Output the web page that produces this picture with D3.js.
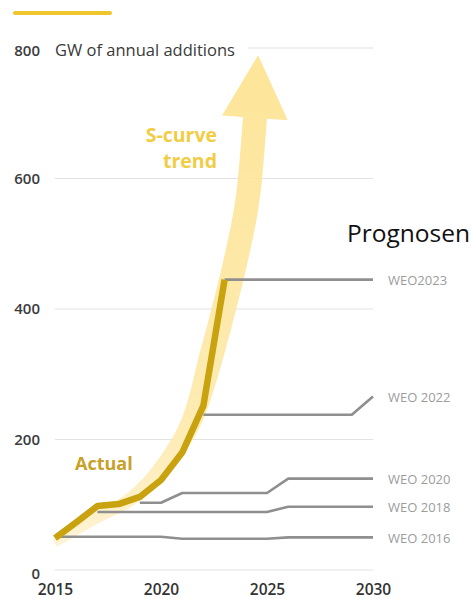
<!DOCTYPE html>
<html><head><meta charset="utf-8">
<script src="https://cdn.jsdelivr.net/npm/d3@7"></script>
<style>
html,body{margin:0;padding:0;background:#fff;}
svg{display:block;font-family:"Open Sans",sans-serif;}
</style></head>
<body>
<svg id="chart" width="474" height="599"></svg>
<script>
// ---- data ----
const yTicks = [0, 200, 400, 600, 800];
const xTicks = [2015, 2020, 2025, 2030];

const actualYears  = [2015, 2016, 2017, 2018, 2019, 2020, 2021, 2022, 2023];
const actualValues = [49, 73, 98, 101, 112, 138, 180, 252, 445];

const weoNames = ["WEO 2016", "WEO 2018", "WEO 2020", "WEO 2022", "WEO2023"];
const weo2016Years = [2015, 2020, 2021, 2025, 2026, 2030];
const weo2016Values = [51, 51, 48, 48, 50, 50];
const weo2018Years = [2017, 2025, 2026, 2030];
const weo2018Values = [89, 89, 97, 97];
const weo2020Years = [2019, 2020, 2021, 2025, 2026, 2030];
const weo2020Values = [103, 103, 118, 118, 140, 140];
const weo2022Years = [2022, 2029, 2030];
const weo2022Values = [238, 238, 266];
const weo2023Years = [2023, 2030];
const weo2023Values = [445, 445];

// S-curve trend arrow centreline (year, GW) and arrow tip
const trendYears  = [2015, 2016.98, 2018.49, 2019.48, 2020.61, 2021.46, 2022.45, 2023.63, 2024.10, 2024.43];
const trendValues = [41, 80, 107, 135, 181, 230, 337, 490, 572, 693];
const trendTip = [2024.58, 789];

// ---- chart ----
const svg = d3.select("#chart");
const x = d3.scaleLinear().domain([2015, 2030]).range([55, 373]);
const y = d3.scaleLinear().domain([0, 800]).range([570, 48]);

// legend bar at top
svg.append("line").attr("x1", 15).attr("x2", 110).attr("y1", 13).attr("y2", 13)
  .attr("stroke", "#f0c62e").attr("stroke-width", 4).attr("stroke-linecap", "round");

// gridlines
svg.append("g").selectAll("line").data(yTicks).join("line")
  .attr("x1", d => d === 800 ? 248 : x(2015)).attr("x2", x(2030))
  .attr("y1", d => y(d)).attr("y2", d => y(d))
  .attr("stroke", "#e2e2e2").attr("stroke-width", 1.2);

// y axis
const yAxis = svg.append("g").attr("transform", `translate(${x(2015)},0)`)
  .call(d3.axisLeft(y).tickValues(yTicks).tickSize(0).tickPadding(15).tickFormat(d3.format("d")));
yAxis.select(".domain").remove();
yAxis.selectAll("text").attr("font-family", "Open Sans").attr("font-size", 15).attr("font-weight", 600).attr("fill", "#3c3c3c");
yAxis.selectAll(".tick").filter(d => d === 0).select("text").attr("dy", "0.55em");
yAxis.selectAll(".tick").filter(d => d === 800).select("text").attr("dy", "0.5em");

svg.append("text").attr("x", 55).attr("y", y(800) + 8)
  .attr("font-size", 16.5).attr("font-weight", 500).attr("fill", "#3a3a3a")
  .text("GW of annual additions");

// x axis
const xAxis = svg.append("g").attr("transform", `translate(0,${y(0)})`)
  .call(d3.axisBottom(x).tickValues(xTicks).tickSize(0).tickPadding(14).tickFormat(d3.format("d")));
xAxis.select(".domain").remove();
xAxis.selectAll("text").attr("font-family", "Open Sans").attr("font-size", 15.5).attr("font-weight", 600).attr("fill", "#333");

// S-curve trend band + arrow
const defs = svg.append("defs");
const grad = defs.append("linearGradient").attr("id", "bandGrad")
  .attr("gradientUnits", "userSpaceOnUse").attr("x1", 0).attr("x2", 0)
  .attr("y1", y(40)).attr("y2", y(790));
grad.append("stop").attr("offset", 0).attr("stop-color", "#fef3d2");
grad.append("stop").attr("offset", 0.25).attr("stop-color", "#fdeaae");
grad.append("stop").attr("offset", 1).attr("stop-color", "#fde393");

const trendPts = trendYears.map((t, i) => [x(t), y(trendValues[i])]);
const centre = svg.append("path")
  .attr("d", d3.line().curve(d3.curveCatmullRom.alpha(0.5))(trendPts))
  .attr("fill", "none").attr("stroke", "none");
const node = centre.node();
const L = node.getTotalLength();
const N = 160;
const samples = d3.range(N + 1).map(i => node.getPointAtLength(L * i / N));
const leftSide = [], rightSide = [];
samples.forEach((p, i) => {
  const a = samples[Math.max(0, i - 2)], b = samples[Math.min(N, i + 2)];
  let dx = b.x - a.x, dy = b.y - a.y; const len = Math.hypot(dx, dy) || 1;
  dx /= len; dy /= len;
  const s = i / N;
  const w = 8 + 16 * Math.min(1, s / 0.5);
  const nx = -dy, ny = dx;
  leftSide.push([p.x - nx * w / 2, p.y - ny * w / 2]);
  rightSide.push([p.x + nx * w / 2, p.y + ny * w / 2]);
});
// arrow head
const endP = samples[N], preP = samples[N - 4];
let ex = endP.x - preP.x, ey = endP.y - preP.y; const el = Math.hypot(ex, ey); ex /= el; ey /= el;
const hnx = -ey, hny = ex, hw = 33;
const headA = [endP.x - hnx * hw, endP.y - hny * hw];
const headB = [endP.x + hnx * hw, endP.y + hny * hw];
const tip = [x(trendTip[0]), y(trendTip[1])];
const poly = leftSide.concat([headA, tip, headB]).concat(rightSide.slice().reverse());
svg.insert("path", "path")
  .attr("d", "M" + poly.map(p => p.join(",")).join("L") + "Z")
  .attr("fill", "url(#bandGrad)").attr("opacity", 0.95);

// WEO forecast lines
const weoSeries = [
  [weo2016Years, weo2016Values],
  [weo2018Years, weo2018Values],
  [weo2020Years, weo2020Values],
  [weo2022Years, weo2022Values],
  [weo2023Years, weo2023Values]
];
const line = d3.line().x(d => x(d[0])).y(d => y(d[1]));
weoSeries.forEach(([ys, vs], i) => {
  const pts = ys.map((t, j) => [t, vs[j]]);
  svg.append("path").attr("d", line(pts)).attr("fill", "none")
    .attr("stroke", "#8f8f8f").attr("stroke-width", 2.6).attr("stroke-linejoin", "round");
  svg.append("text").attr("x", x(2030) + 15).attr("y", y(vs[vs.length - 1])).attr("dy", "0.4em")
    .attr("font-size", 13).attr("fill", "#9c9c9c").text(weoNames[i]);
});

// Actual line
svg.append("path")
  .attr("d", line(actualYears.map((t, i) => [t, actualValues[i]])))
  .attr("fill", "none").attr("stroke", "#c9a20f").attr("stroke-width", 6.5)
  .attr("stroke-linejoin", "round").attr("stroke-linecap", "butt");

// annotations
svg.append("text").attr("x", 217).attr("y", 142).attr("text-anchor", "end")
  .attr("font-size", 19.5).attr("font-weight", 700).attr("fill", "#f0cd45").text("S-curve");
svg.append("text").attr("x", 217).attr("y", 168).attr("text-anchor", "end")
  .attr("font-size", 19.5).attr("font-weight", 700).attr("fill", "#f0cd45").text("trend");
svg.append("text").attr("x", 75).attr("y", 470)
  .attr("font-size", 18).attr("font-weight", 700).attr("fill", "#c8a12a").text("Actual");

svg.append("text").attr("x", 347).attr("y", 242)
  .attr("font-size", 24.5).attr("fill", "#111").text("Prognosen");
</script>
</body></html>
